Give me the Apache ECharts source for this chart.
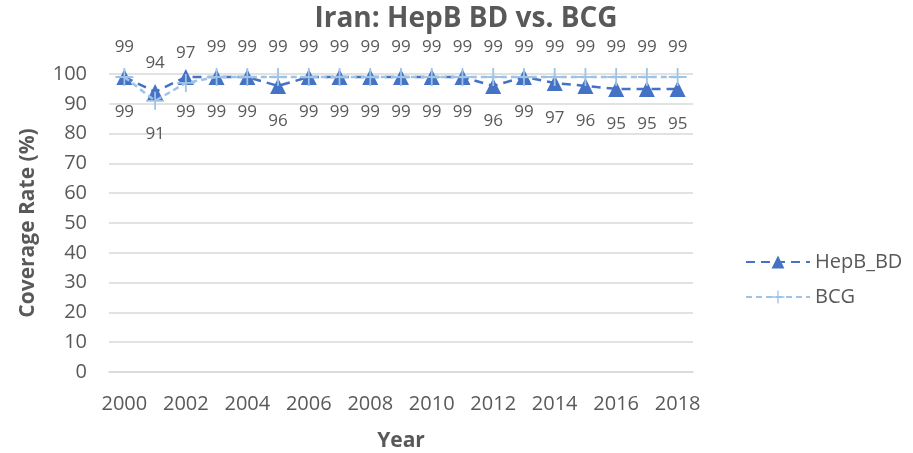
<!DOCTYPE html>
<html>
<head>
<meta charset="utf-8">
<script src="https://cdn.jsdelivr.net/npm/echarts@6/dist/echarts.min.js"></script>
<style>
  html, body { margin: 0; padding: 0; background: #fff; }
  #chart { width: 913px; height: 453px; }
</style>
</head>
<body>
<div id="chart"></div>
<script>
// Immunisation coverage, Iran, 2000–2018
const years = ['2000','2001','2002','2003','2004','2005','2006','2007','2008','2009',
               '2010','2011','2012','2013','2014','2015','2016','2017','2018'];
const hepbBD = [99, 94, 99, 99, 99, 96, 99, 99, 99, 99, 99, 99, 96, 99, 97, 96, 95, 95, 95];
const bcg    = [99, 91, 97, 99, 99, 99, 99, 99, 99, 99, 99, 99, 99, 99, 99, 99, 99, 99, 99];
const yTicks = [0, 10, 20, 30, 40, 50, 60, 70, 80, 90, 100];

const FONT = '"Open Sans", "Liberation Sans", sans-serif';
const TEXT = '#595959';

// HepB labels sit under the points, BCG labels over them,
// except in 2001 where the two swap sides.
function labelled(values, defaultPos, swapIdx, dist, swapDist) {
  return values.map((v, i) => {
    const swap = i === swapIdx;
    return {
      value: v,
      label: {
        position: swap ? (defaultPos === 'top' ? 'bottom' : 'top') : defaultPos,
        distance: swap ? swapDist : dist
      }
    };
  });
}

const plusPath = 'path://M9,0h2v9h9v2h-9v9h-2v-9h-9v-2h9z';

const chart = echarts.init(document.getElementById('chart'), null, { renderer: 'canvas' });
chart.setOption({
  animation: false,
  textStyle: { fontFamily: FONT },
  title: {
    text: 'Iran: HepB BD vs. BCG',
    left: 461, top: 0, textAlign: 'center',
    textStyle: { fontFamily: FONT, fontSize: 28, fontWeight: 'bold', color: TEXT }
  },
  grid: { left: 109, right: 220, top: 74, bottom: 81, containLabel: false, outerBoundsMode: 'none' },
  legend: {
    orient: 'vertical',
    left: 740, top: 247,
    itemWidth: 64, itemHeight: 16, itemGap: 15,
    textStyle: { fontFamily: FONT, fontSize: 20, color: TEXT },
    data: ['HepB_BD', 'BCG']
  },
  xAxis: {
    type: 'category',
    data: years,
    boundaryGap: true,
    name: 'Year',
    nameLocation: 'middle',
    nameGap: 59,
    nameTextStyle: { fontFamily: FONT, fontSize: 21, fontWeight: 'bold', color: TEXT },
    axisLine: { show: true, lineStyle: { color: '#D9D9D9', width: 1.5 } },
    axisTick: { show: false },
    axisLabel: { interval: 1, fontSize: 20, color: TEXT, margin: 22, fontFamily: FONT }
  },
  yAxis: {
    type: 'value',
    min: yTicks[0], max: yTicks[yTicks.length - 1], interval: 10,
    name: 'Coverage Rate (%)',
    nameLocation: 'middle',
    nameGap: 70,
    nameRotate: 90,
    nameTextStyle: { fontFamily: FONT, fontSize: 21, fontWeight: 'bold', color: TEXT },
    axisLine: { show: false },
    axisTick: { show: false },
    axisLabel: { fontSize: 20, color: TEXT, margin: 22, fontFamily: FONT },
    splitLine: { lineStyle: { color: '#D9D9D9', width: 1.5 } }
  },
  series: [
    {
      name: 'HepB_BD',
      type: 'line',
      data: labelled(hepbBD, 'bottom', 1, 19, 12),
      symbol: 'triangle',
      symbolSize: [16, 16],
      itemStyle: { color: '#4472C4' },
      lineStyle: { color: '#4472C4', width: 2.5, type: [9, 6] },
      label: { show: true, fontSize: 17, color: TEXT, fontFamily: FONT },
      z: 2
    },
    {
      name: 'BCG',
      type: 'line',
      data: labelled(bcg, 'top', 1, 12, 16),
      symbol: plusPath,
      symbolSize: 18,
      itemStyle: { color: '#9DC3E6' },
      lineStyle: { color: '#9DC3E6', width: 2.5, type: [6, 4] },
      label: { show: true, fontSize: 17, color: TEXT, fontFamily: FONT },
      z: 3
    }
  ]
});
</script>
</body>
</html>
